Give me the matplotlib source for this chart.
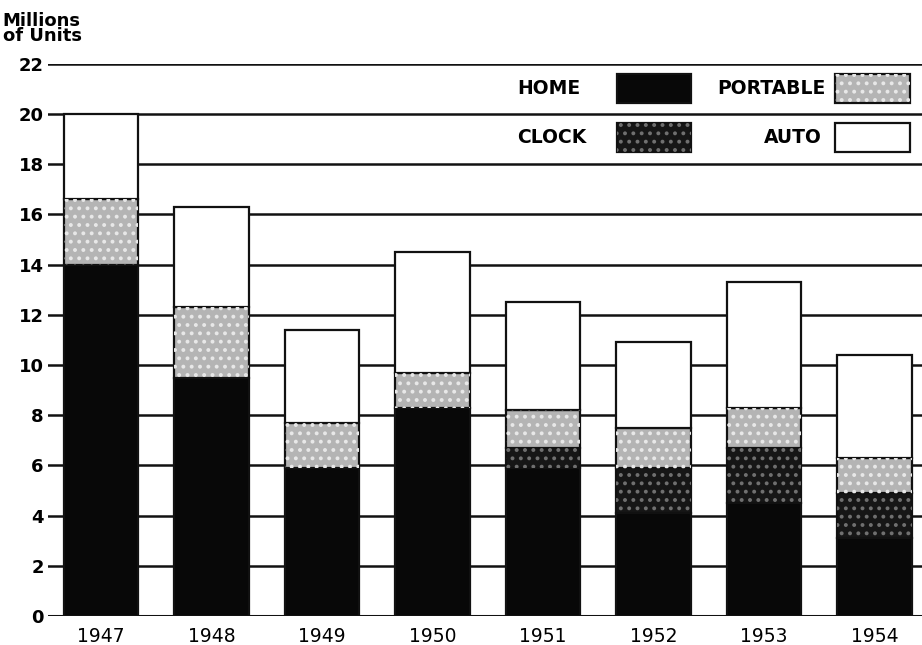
import matplotlib
matplotlib.use('Agg')
import matplotlib.pyplot as plt
from matplotlib.patches import Rectangle
import numpy as np

# Radio set production by type, millions of units
years = ['1947', '1948', '1949', '1950', '1951', '1952', '1953', '1954']
home = [14.0, 9.5, 5.9, 8.3, 5.9, 4.1, 4.5, 3.1]
clock = [0.0, 0.0, 0.0, 0.0, 0.8, 1.8, 2.2, 1.8]
portable = [2.6, 2.8, 1.8, 1.4, 1.5, 1.6, 1.6, 1.4]
auto = [3.4, 4.0, 3.7, 4.8, 4.3, 3.4, 5.0, 4.1]
yticks = list(range(0, 23, 2))

plt.rcParams['font.family'] = 'DejaVu Sans'
plt.rcParams['hatch.linewidth'] = 1.6

fig = plt.figure(figsize=(9.22, 6.45), dpi=100)
ax = fig.add_axes([0.052, 0.045, 0.948, 0.856])

x = np.arange(len(years))
w = 0.67
home = np.array(home)
clock = np.array(clock)
portable = np.array(portable)
auto = np.array(auto)

# grid lines behind the bars
for y in yticks:
    ax.axhline(y, color='#111111', lw=2.2 if y == 0 else 1.8, zorder=0)

kw = dict(width=w, edgecolor='#111111', linewidth=1.6, zorder=2)
ax.bar(x, home, color='#080808', **kw)
b = home
ax.bar(x, clock, bottom=b, color='#161616', **kw)
ax.bar(x, clock, bottom=b, color='none', edgecolor='#707070', hatch='..', width=w, linewidth=0, zorder=3)
b = b + clock
ax.bar(x, portable, bottom=b, color='#b4b4b4', **kw)
ax.bar(x, portable, bottom=b, color='none', edgecolor='#e8e8e8', hatch='..', width=w, linewidth=0, zorder=3)
b = b + portable
ax.bar(x, auto, bottom=b, color='white', **kw)

ax.set_xlim(-0.48, 7.43)
ax.set_ylim(0, 22)
ax.set_yticks(yticks)
ax.set_yticklabels([str(t) for t in yticks], fontsize=13, fontweight='bold')
ax.set_xticks(x)
ax.set_xticklabels(years, fontsize=13.5)
ax.tick_params(axis='y', length=0, pad=3)
ax.tick_params(axis='x', length=0, pad=8)
for s in ax.spines.values():
    s.set_visible(False)

fig.text(0.003, 0.93, 'Millions\nof Units', fontsize=13, fontweight='bold',
         linespacing=0.8, va='bottom', ha='left')

# legend drawn as text + swatches in the upper right
def swatch(x0, y0, face, hatch=None, hcol=None):
    ax.add_patch(Rectangle((x0, y0), 0.085, 0.052, transform=ax.transAxes,
                           facecolor=face, edgecolor='#111111', lw=1.6, zorder=5))
    if hatch:
        ax.add_patch(Rectangle((x0, y0), 0.085, 0.052, transform=ax.transAxes,
                               facecolor='none', edgecolor=hcol, hatch=hatch, lw=0, zorder=6))

lk = dict(transform=ax.transAxes, fontsize=13.5, fontweight='bold', va='center', zorder=6)
ax.text(0.537, 0.955, 'HOME', ha='left', **lk)
swatch(0.651, 0.929, '#080808')
ax.text(0.890, 0.955, 'PORTABLE', ha='right', **lk)
swatch(0.901, 0.929, '#b4b4b4', '..', '#e8e8e8')
ax.text(0.537, 0.867, 'CLOCK', ha='left', **lk)
swatch(0.651, 0.841, '#161616', '..', '#707070')
ax.text(0.885, 0.867, 'AUTO', ha='right', **lk)
swatch(0.901, 0.841, 'white')

fig.savefig('out.png', dpi=100, facecolor='white')
